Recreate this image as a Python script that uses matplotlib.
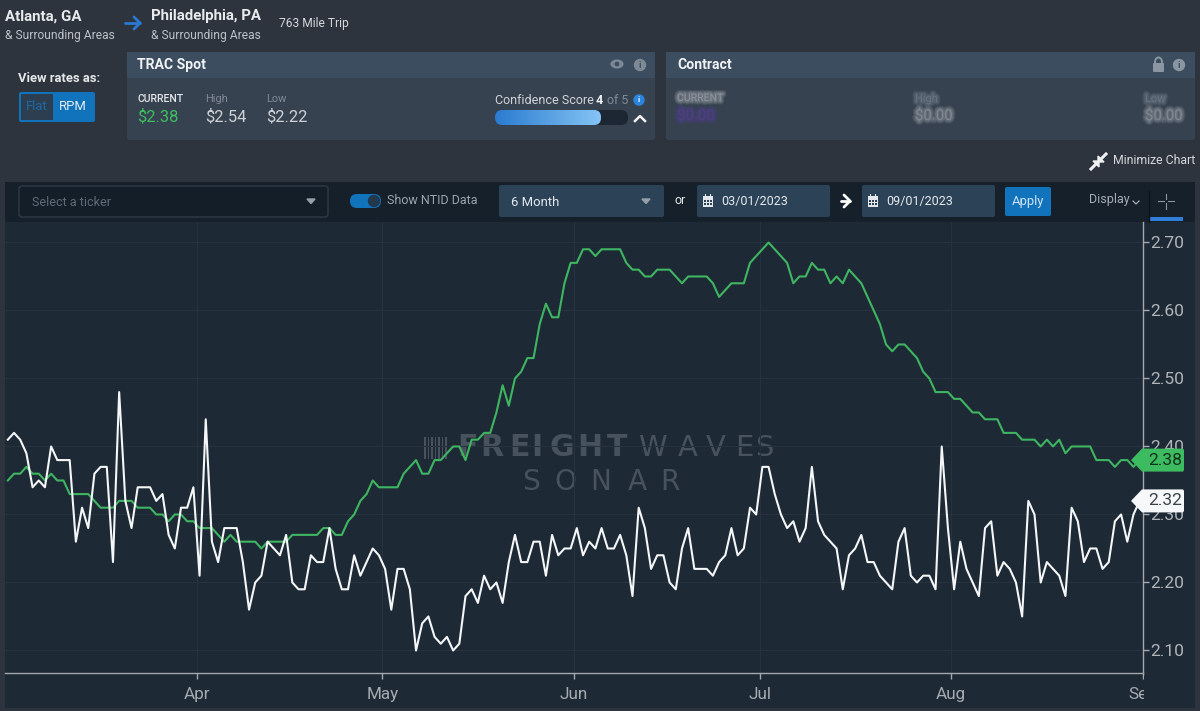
import numpy as np
import pandas as pd
from matplotlib import pyplot as plt
from matplotlib.patches import Rectangle, FancyBboxPatch, Polygon, Circle, Ellipse
from matplotlib import patheffects as pe
from matplotlib.colors import LinearSegmentedColormap
import matplotlib.dates as mdates

plt.rcParams["font.family"] = ["Roboto", "DejaVu Sans"]

# daily readings, 03/01/2023 - 09/01/2023
ntid = [
    2.41, 2.42, 2.41, 2.39, 2.34, 2.35, 2.34, 2.40, 2.38, 2.38,
    2.38, 2.26, 2.31, 2.28, 2.36, 2.37, 2.37, 2.23, 2.48, 2.32,
    2.28, 2.34, 2.34, 2.34, 2.32, 2.33, 2.27, 2.25, 2.31, 2.31,
    2.34, 2.21, 2.44, 2.26, 2.23, 2.28, 2.28, 2.28, 2.23, 2.16,
    2.20, 2.21, 2.26, 2.25, 2.24, 2.27, 2.20, 2.19, 2.19, 2.24,
    2.23, 2.23, 2.28, 2.22, 2.19, 2.19, 2.24, 2.21, 2.23, 2.25,
    2.24, 2.22, 2.16, 2.22, 2.22, 2.19, 2.10, 2.14, 2.15, 2.12,
    2.11, 2.12, 2.10, 2.11, 2.18, 2.19, 2.17, 2.21, 2.19, 2.20,
    2.17, 2.23, 2.27, 2.23, 2.23, 2.26, 2.26, 2.21, 2.27, 2.24,
    2.25, 2.25, 2.28, 2.24, 2.26, 2.25, 2.28, 2.25, 2.25, 2.27,
    2.24, 2.18, 2.31, 2.28, 2.22, 2.24, 2.24, 2.20, 2.19, 2.25,
    2.28, 2.22, 2.22, 2.22, 2.21, 2.23, 2.24, 2.28, 2.24, 2.25,
    2.31, 2.30, 2.37, 2.37, 2.33, 2.30, 2.28, 2.29, 2.26, 2.28,
    2.37, 2.29, 2.27, 2.26, 2.25, 2.19, 2.24, 2.25, 2.27, 2.23,
    2.23, 2.21, 2.20, 2.19, 2.26, 2.28, 2.21, 2.20, 2.21, 2.21,
    2.19, 2.40, 2.28, 2.19, 2.26, 2.22, 2.20, 2.18, 2.28, 2.29,
    2.21, 2.23, 2.22, 2.20, 2.15, 2.32, 2.30, 2.20, 2.23, 2.22,
    2.21, 2.18, 2.31, 2.29, 2.23, 2.25, 2.25, 2.22, 2.23, 2.29,
    2.30, 2.26, 2.30, 2.32,
]
trac_spot = [
    2.35, 2.36, 2.36, 2.37, 2.36, 2.36, 2.35, 2.36, 2.35, 2.35,
    2.33, 2.33, 2.33, 2.33, 2.32, 2.31, 2.31, 2.31, 2.32, 2.32,
    2.32, 2.31, 2.31, 2.31, 2.30, 2.30, 2.29, 2.30, 2.30, 2.29,
    2.29, 2.28, 2.28, 2.28, 2.27, 2.26, 2.27, 2.26, 2.26, 2.26,
    2.26, 2.25, 2.26, 2.26, 2.26, 2.26, 2.27, 2.27, 2.27, 2.27,
    2.27, 2.28, 2.28, 2.27, 2.27, 2.29, 2.30, 2.32, 2.33, 2.35,
    2.34, 2.34, 2.34, 2.34, 2.36, 2.37, 2.38, 2.36, 2.36, 2.38,
    2.38, 2.39, 2.40, 2.40, 2.38, 2.41, 2.41, 2.42, 2.42, 2.45,
    2.49, 2.46, 2.50, 2.51, 2.53, 2.53, 2.58, 2.61, 2.59, 2.59,
    2.64, 2.67, 2.67, 2.69, 2.69, 2.68, 2.69, 2.69, 2.69, 2.69,
    2.67, 2.66, 2.66, 2.65, 2.65, 2.66, 2.66, 2.66, 2.65, 2.64,
    2.65, 2.65, 2.65, 2.65, 2.64, 2.62, 2.63, 2.64, 2.64, 2.64,
    2.67, 2.68, 2.69, 2.70, 2.69, 2.68, 2.67, 2.64, 2.65, 2.65,
    2.67, 2.66, 2.66, 2.64, 2.65, 2.64, 2.66, 2.65, 2.64, 2.62,
    2.60, 2.58, 2.55, 2.54, 2.55, 2.55, 2.54, 2.53, 2.51, 2.50,
    2.48, 2.48, 2.48, 2.47, 2.47, 2.46, 2.45, 2.45, 2.44, 2.44,
    2.44, 2.42, 2.42, 2.42, 2.41, 2.41, 2.41, 2.40, 2.41, 2.40,
    2.41, 2.39, 2.40, 2.40, 2.40, 2.40, 2.38, 2.38, 2.38, 2.37,
    2.38, 2.38, 2.37, 2.38,
]
y_ticks = [2.10, 2.20, 2.30, 2.40, 2.50, 2.60, 2.70]
month_ticks = ["2023-04-01", "2023-05-01", "2023-06-01", "2023-07-01", "2023-08-01", "2023-09-01"]

BG = "#2d343d"
PANEL = "#1d2a36"
BAR = "#16202b"
CARD_HEAD = "#3b4d5f"
CARD_BODY = "#36424f"
BLUE = "#1273bd"
BOX = "#2b4257"
GREEN = "#3fb561"
GRID = "#25333f"
AXIS = "#a3a8ad"
MARK = "#47525c"

W, H = 1200, 711
fig = plt.figure(figsize=(W / 100, H / 100), dpi=100, facecolor=BG)

# back layer, pixel coordinates with y going down
ui = fig.add_axes([0, 0, 1, 1], zorder=0)
ui.set_xlim(0, W)
ui.set_ylim(H, 0)
ui.axis("off")


def label(a, x, y, s, px=12.5, color="#d5d8dc", weight="normal", ha="left", **kw):
    return a.text(x, y, s, fontsize=px / 1.389, color=color, fontweight=weight, ha=ha, va="center", **kw)


def rect(a, x0, y0, x1, y1, color, **kw):
    a.add_patch(Rectangle((x0, y0), x1 - x0, y1 - y0, facecolor=color, edgecolor="none", **kw))


def rbox(a, x0, y0, x1, y1, color, r=3, edge="none", **kw):
    p = FancyBboxPatch((x0 + r, y0 + r), x1 - x0 - 2 * r, y1 - y0 - 2 * r,
                       boxstyle="round,pad=%s,rounding_size=%s" % (r, r),
                       facecolor=color, edgecolor=edge, **kw)
    a.add_patch(p)
    return p


def info(a, x, y, color, r=5.5, fg=BG):
    a.add_patch(Circle((x, y), r, color=color))
    label(a, x, y, "i", px=r * 1.7, color=fg, weight="bold", ha="center")


def calendar(a, x, y):
    rect(a, x - 5, y - 5, x + 5, y + 6, "#e4e8ec")
    for i in range(3):
        for j in range(2):
            rect(a, x - 4 + i * 3, y - 1 + j * 3, x - 2 + i * 3, y + 1 + j * 3, BOX)
    rect(a, x - 3, y - 7, x - 2, y - 4, "#e4e8ec")
    rect(a, x + 2, y - 7, x + 3, y - 4, "#e4e8ec")


def arrow(a, x0, x1, y, color, lw=2.0):
    a.plot([x0, x1], [y, y], color=color, lw=lw, solid_capstyle="round")
    a.plot([x1 - 6, x1, x1 - 6], [y - 6, y, y + 6], color=color, lw=lw, solid_capstyle="round")


# route header
label(ui, 5, 17, "Atlanta, GA", px=15, color="#e8ebee", weight="bold")
label(ui, 5, 35, "& Surrounding Areas", px=12, color="#bcc2c8")
arrow(ui, 125, 140, 23, "#2a78d2")
label(ui, 151, 16, "Philadelphia, PA", px=15, color="#e8ebee", weight="bold")
label(ui, 151, 35, "& Surrounding Areas", px=12, color="#bcc2c8")
label(ui, 279, 24, "763 Mile Trip", px=12, color="#d5d8dc")

# flat / rpm switch
label(ui, 18, 78, "View rates as:", px=13, color="#e4e7ea", weight="bold")
rbox(ui, 19, 92, 95, 122, BLUE, r=2)
rect(ui, 21, 94, 53, 120, "#2c3e50")
label(ui, 37, 107, "Flat", px=13, color="#1c6aa8", ha="center")
label(ui, 73, 107, "RPM", px=13, color="#e6eef5", ha="center")

# TRAC Spot card
rbox(ui, 127, 52, 655, 140, CARD_BODY, r=2)
rect(ui, 127, 52, 655, 78, CARD_HEAD)
label(ui, 137, 65, "TRAC Spot", px=14, color="#f0f2f4", weight="bold")
ui.add_patch(Ellipse((617, 64), 13, 9, facecolor="#7d8a96", edgecolor="none"))
ui.add_patch(Circle((617, 64), 2.4, facecolor=CARD_HEAD, edgecolor="none"))
info(ui, 640, 65, "#7d8a96", fg=CARD_HEAD)
label(ui, 137, 99, "CURRENT", px=10.5, color="#e4e7ea", weight="medium")
label(ui, 205, 99, "High", px=11, color="#7f8a96")
label(ui, 266, 99, "Low", px=11, color="#7f8a96")
label(ui, 137, 117, "$2.38", px=16.5, color="#3ebd61")
label(ui, 205, 117, "$2.54", px=16.5, color="#cdd1d5")
label(ui, 266, 117, "$2.22", px=16.5, color="#cdd1d5")

# confidence score
label(ui, 495, 100, "Confidence Score", px=12.5, color="#d0d4d8")
label(ui, 596, 100, "4", px=12.5, color="#f0f2f4", weight="bold")
label(ui, 607, 100, "of 5", px=12.5, color="#7f8a96")
info(ui, 639, 100, "#2a85e0", r=5, fg="#e8f2fb")
rbox(ui, 495, 110, 628, 125, "#1c2733", r=7)
conf_cmap = LinearSegmentedColormap.from_list("conf", ["#2a7bd0", "#85c4f5"])
bar_clip = rbox(ui, 495, 110, 601, 125, "none", r=7)
grad = ui.imshow(np.linspace(0, 1, 100).reshape(1, -1), extent=(495, 601, 125, 110),
                 cmap=conf_cmap, aspect="auto", zorder=2)
grad.set_clip_path(bar_clip)
ui.set_xlim(0, W)
ui.set_ylim(H, 0)
ui.plot([635, 640, 645], [121, 116, 121], color="#f0f2f4", lw=1.8)

# Contract card, values are blurred out in the app
rbox(ui, 666, 52, 1195, 140, CARD_BODY, r=2)
rect(ui, 666, 52, 1195, 78, CARD_HEAD)
label(ui, 677, 65, "Contract", px=14, color="#f0f2f4", weight="bold")
rbox(ui, 1153, 63, 1164, 72, "#8a96a2", r=1)
ui.add_patch(Ellipse((1158.5, 62), 7, 9, facecolor="none", edgecolor="#8a96a2", lw=1.4))
info(ui, 1179, 65, "#8a96a2", fg=CARD_HEAD)


def blurred(x, y, s, px, color):
    t = label(ui, x, y, s, px=px, color=color)
    t.set_path_effects([pe.Stroke(linewidth=5, foreground=color, alpha=0.12),
                        pe.Stroke(linewidth=3.5, foreground=color, alpha=0.14),
                        pe.Stroke(linewidth=2, foreground=color, alpha=0.16)])


blurred(677, 98, "CURRENT", 10.5, "#c8ccd0")
blurred(677, 116, "$0.00", 15, "#5b3fa8")
blurred(915, 99, "High", 11, "#8a96a2")
blurred(915, 116, "$0.00", 15, "#b4bac0")
blurred(1145, 99, "Low", 11, "#8a96a2")
blurred(1145, 116, "$0.00", 15, "#b4bac0")

# minimize chart
label(ui, 1113, 161, "Minimize Chart", px=12.2, color="#d5d8dc")
ui.plot([1091, 1097], [169, 163], color="#eef0f2", lw=2.2)
ui.add_patch(Polygon([[1099, 161], [1099, 167], [1093, 161]], color="#eef0f2"))
ui.plot([1100, 1106], [160, 154], color="#eef0f2", lw=2.2)
ui.add_patch(Polygon([[1098, 162], [1098, 156], [1104, 162]], color="#eef0f2"))

# toolbar and chart panel
rect(ui, 5, 182, 1195, 222, BAR)
rect(ui, 5, 222, 1195, 708, PANEL)
rbox(ui, 19, 186, 328, 217, "#131e28", r=3, edge="#2d3b48", lw=1)
label(ui, 32, 202, "Select a ticker", px=12.5, color="#5e6a76")
ui.add_patch(Polygon([[307, 199], [315, 199], [311, 203.5]], color="#97a0a9"))
rbox(ui, 350, 194, 381, 208, BLUE, r=7)
ui.add_patch(Circle((374, 201), 5.5, color="#22384c"))
label(ui, 387, 201, "Show NTID Data", px=12.5, color="#9aa4ae")
rbox(ui, 499, 185, 664, 217, BOX, r=2)
label(ui, 511, 202, "6 Month", px=13, color="#e6eaee")
ui.add_patch(Polygon([[642, 199], [650, 199], [646, 203.5]], color="#97a0a9"))
label(ui, 680, 201, "or", px=12.5, color="#e4e7ea", ha="center")
rbox(ui, 697, 185, 830, 217, BOX, r=2)
calendar(ui, 708, 201)
label(ui, 721, 201, "03/01/2023", px=12.5, color="#e6eaee")
arrow(ui, 841, 850, 201, "#ffffff", lw=2.0)
rbox(ui, 862, 185, 995, 217, BOX, r=2)
calendar(ui, 873, 201)
label(ui, 886, 201, "09/01/2023", px=12.5, color="#e6eaee")
rbox(ui, 1005, 187, 1051, 216, BLUE, r=2)
label(ui, 1028, 202, "Apply", px=13, color="#cfe3f3", ha="center")
label(ui, 1089, 200, "Display", px=12.5, color="#a4acb4")
ui.plot([1133, 1136, 1139], [201, 204, 201], color="#a4acb4", lw=0.9)
ui.plot([1148.5, 1148.5], [191, 222], color="#0c131a", lw=1)
for x0, y0, x1, y1 in [(1166, 194, 1166, 199), (1166, 203, 1166, 209), (1158, 201, 1164, 201), (1168, 201, 1174, 201)]:
    ui.plot([x0, x1], [y0, y1], color="#8b95a0", lw=0.8)
rect(ui, 1149, 217, 1183, 221, "#2f7fd8")

# watermark sits behind the lines
for i in range(7):
    rect(ui, 424 + i * 3.5, 437, 425.6 + i * 3.5, 459, MARK)


def spaced(s, xs, y, px, weight, family):
    for c, x in zip(s, xs):
        label(ui, x, y, c, px=px, color=MARK, weight=weight, ha="center", family=family)


spaced("FREIGHT", [467, 492, 519, 537, 562, 590, 617], 448, 30, "bold", "DejaVu Sans")
spaced("WAVES", [652, 688, 716, 744, 764], 448, 29, "normal", "DejaVu Sans")
spaced("SONAR", [531, 565, 601, 637, 670], 482, 28, "normal", "DejaVu Sans")

# the chart
ax = fig.add_axes([5 / W, 1 - 673 / H, 1138 / W, 451 / H], zorder=1)
ax.patch.set_alpha(0)
dates = pd.date_range("2023-03-01 11:00", periods=len(ntid), freq="D")
ax.plot(dates, trac_spot, color=GREEN, lw=1.5)
ax.plot(dates, ntid, color="#f4f6f7", lw=1.5)
ax.set_xlim(pd.Timestamp("2023-03-01"), pd.Timestamp("2023-09-01"))
ax.set_ylim(2.0669, 2.7301)
ax.set_yticks(y_ticks)
ax.set_yticklabels(["%.2f" % v for v in y_ticks])
ax.yaxis.tick_right()
ax.set_xticks(pd.to_datetime(month_ticks))
ax.xaxis.set_major_formatter(mdates.DateFormatter("%b"))
ax.grid(True, color=GRID, lw=0.8)
ax.set_axisbelow(True)
ax.tick_params(axis="y", length=4, width=1, color=AXIS, labelcolor="#b0b4b8", labelsize=12.5, pad=1)
ax.tick_params(axis="x", length=4, width=1, color=AXIS, labelcolor="#a6abb0", labelsize=12.3, pad=6)
for s in ["top", "left"]:
    ax.spines[s].set_visible(False)
for s in ["bottom", "right"]:
    ax.spines[s].set_color(AXIS)
    ax.spines[s].set_linewidth(1)

# front layer: end-of-line value tags and the cut-off "Sep"
top = fig.add_axes([0, 0, 1, 1], zorder=2)
top.set_xlim(0, W)
top.set_ylim(H, 0)
top.axis("off")
rect(top, 1144, 676, 1195, 708, PANEL)


def value_tag(value, color, text_color):
    y = 650.5 - (value - 2.10) * 680
    top.add_patch(Polygon([[1131, y], [1142, y - 11.5], [1183, y - 11.5], [1184, y - 10],
                           [1184, y + 10], [1183, y + 11.5], [1142, y + 11.5]],
                          closed=True, facecolor=color, edgecolor="none"))
    label(top, 1165.5, y, "%.2f" % value, px=17.5, color=text_color, ha="center")


value_tag(trac_spot[-1], "#3dbb60", "#12321c")
value_tag(ntid[-1], "#f7f8f9", "#3a4148")

fig.savefig("out.png", dpi=100, facecolor=BG)
